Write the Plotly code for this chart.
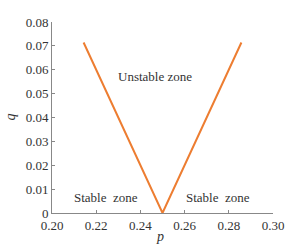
import plotly.graph_objects as go

p_vals = [0.2143, 0.25, 0.2857]
q_vals = [0.0714, 0.0, 0.0714]

labels = ["Unstable zone", "Stable  zone", "Stable  zone"]
label_p = [0.2466, 0.2244, 0.2749]
label_q = [0.057, 0.0067, 0.0067]

x_ticks = [0.20, 0.22, 0.24, 0.26, 0.28, 0.30]
y_ticks = [0, 0.01, 0.02, 0.03, 0.04, 0.05, 0.06, 0.07, 0.08]

font = "Liberation Serif"
tickfont = dict(family=font, size=13, color="#333333")
fig = go.Figure()
fig.add_trace(go.Scatter(x=p_vals, y=q_vals, mode="lines",
                         line=dict(color="#ED7D31", width=2), showlegend=False,
                         hoverinfo="skip"))
for t, x, y in zip(labels, label_p, label_q):
    fig.add_annotation(x=x, y=y, text=t.replace("  ", "&nbsp; "), showarrow=False,
                       font=dict(family=font, size=13, color="#333333"))

# axis titles
fig.add_annotation(x=0.5, y=-0.125, xref="paper", yref="paper", text="<i>p</i>",
                   showarrow=False, xanchor="center", yanchor="middle", xshift=-3,
                   font=dict(family=font, size=14, color="#333333"))
fig.add_annotation(x=-0.19, y=0.5, xref="paper", yref="paper", text="<i>q</i>",
                   showarrow=False, xanchor="center", yanchor="middle", textangle=-90,
                   font=dict(family=font, size=14, color="#333333"))

fig.update_layout(
    width=292, height=247,
    margin=dict(l=52, r=19, t=22, b=34),
    plot_bgcolor="white", paper_bgcolor="white",
    font=dict(family=font, size=13, color="#333333"),
    xaxis=dict(range=[0.2, 0.3], tickvals=x_ticks, automargin=False,
               ticktext=[f"{v:.2f}" for v in x_ticks], tickfont=tickfont,
               showgrid=False, zeroline=False, showline=True,
               linecolor="#888888", linewidth=1, ticks="inside",
               ticklen=3, tickcolor="#888888"),
    yaxis=dict(range=[0, 0.08], tickvals=y_ticks, automargin=False,
               ticktext=["0"] + [f"{v:.2f}" for v in y_ticks[1:]], tickfont=tickfont,
               showgrid=False, zeroline=False, showline=True,
               linecolor="#888888", linewidth=1, ticks="inside",
               ticklen=3, tickcolor="#888888"),
)
fig.write_html("out.html")
